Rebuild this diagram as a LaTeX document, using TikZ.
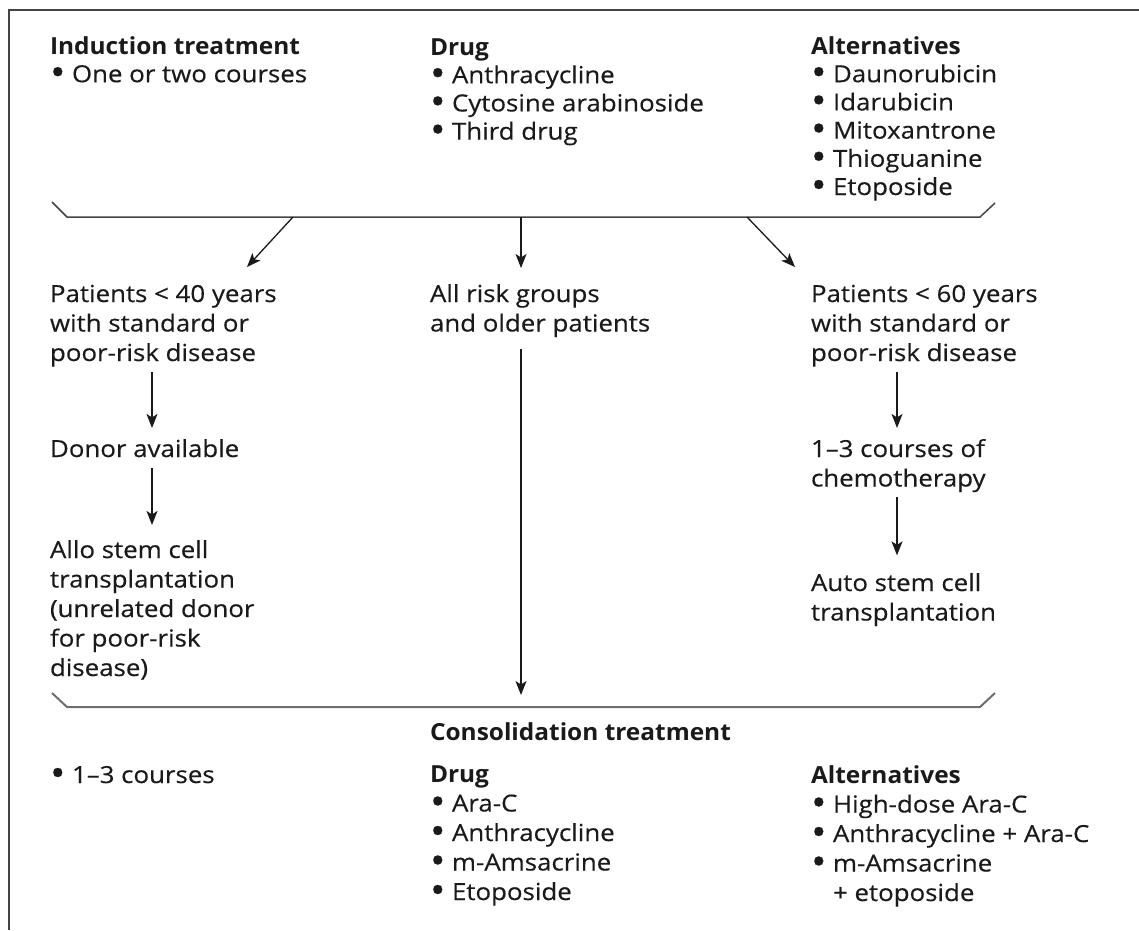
\documentclass[tikz,border=0pt]{standalone}
\usepackage{fontspec}
\setmainfont{Open Sans}[FakeStretch=1.1, UprightFeatures={FakeBold=0.4}, BoldFeatures={FakeStretch=1.04}]
\usetikzlibrary{arrows.meta}
\definecolor{ink}{HTML}{1A1A1A}
\definecolor{framegray}{HTML}{444444}
\definecolor{lowgray}{HTML}{6E6E6E}
\newcommand{\blockA}[1]{\begin{tabular}[t]{@{}l@{}}#1\end{tabular}}
\newcommand{\bu}{\makebox[22pt][l]{\raisebox{-3.2pt}{\scalebox{1.6}{•}}}}
\begin{document}
\begin{tikzpicture}[x=1pt,y=-1pt,
  txttop/.style={anchor=base west, inner sep=0pt, outer sep=0pt, text=ink, font=\fontsize{23.5}{28.2}\selectfont},
  txt/.style={anchor=base west, inner sep=0pt, outer sep=0pt, text=ink, font=\fontsize{23.5}{29.5}\selectfont},
  conn/.style={draw=ink, line width=1.3pt, -{Stealth[length=14pt,width=11pt,inset=3.5pt]}},
  brk/.style={draw=framegray, line width=1.5pt},
  brklow/.style={draw=lowgray, line width=2pt}]
\useasboundingbox (0,0) rectangle (1139,930);
% frame
\draw[framegray, line width=2pt] (9,930) -- (9,10) -- (1139,10);

% top texts
\node[txttop] (ind) at (50,54) {\blockA{\textbf{Induction treatment}\\\bu One or two courses}};
\node[txttop] (drug) at (430,55) {\blockA{\textbf{Drug}\\\bu Anthracycline\\\bu Cytosine arabinoside\\\bu Third drug}};
\node[txttop] (alt) at (811,54) {\blockA{\textbf{Alternatives}\\\bu Daunorubicin\\\bu Idarubicin\\\bu Mitoxantrone\\\bu Thioguanine\\\bu Etoposide}};

% top bracket
\coordinate (tbL) at (52,202);
\coordinate (tbR) at (995,203);
\draw[brk] (tbL) -- (67,217) -- (980,217) -- (tbR);
\coordinate (bA) at (293,217);
\coordinate (bB) at (521,217);
\coordinate (bC) at (747,217);
\coordinate (tA) at (247,267);
\coordinate (tB) at (521,268);
\coordinate (tC) at (795,267);
\draw[conn] (bA) -- (tA);
\draw[conn] (bB) -- (tB);
\draw[conn] (bC) -- (tC);

% middle texts
\node[txt] (p40) at (50,302) {\blockA{Patients < 40 years\\with standard or\\poor-risk disease}};
\node[txt] (donor) at (50,457) {\blockA{Donor available}};
\node[txt] (allo) at (50,558) {\blockA{Allo stem cell\\transplantation\\(unrelated donor\\for poor-risk\\disease)}};
\node[txt] (older) at (430,302) {\blockA{All risk groups\\and older patients}};
\node[txt] (p60) at (811,302) {\blockA{Patients < 60 years\\with standard or\\poor-risk disease}};
\node[txt] (chemo) at (811,457) {\blockA{1–3 courses of\\chemotherapy}};
\node[txt] (auto) at (811,591) {\blockA{Auto stem cell\\transplantation}};

\coordinate (cA) at (152,0);
\coordinate (cB) at (521,0);
\coordinate (cC) at (897,0);

% bottom bracket
\coordinate (lbL) at (52,693);
\coordinate (lbR) at (995,693);
\coordinate (lbM) at (521,707);
\draw[brklow] (lbL) -- (67,707) -- (980,707) -- (lbR);

\draw[conn, shorten <=2pt, shorten >=8.4pt] (p40.south -| cA) -- (donor.north -| cA);
\draw[conn, shorten <=2pt, shorten >=12.4pt] (donor.south -| cA) -- (allo.north -| cA);
\draw[conn, shorten <=9pt, shorten >=12pt] (older.south -| cB) -- (lbM);
\draw[conn, shorten <=2pt, shorten >=8.4pt] (p60.south -| cC) -- (chemo.north -| cC);
\draw[conn, shorten <=2pt, shorten >=15pt] (chemo.south -| cC) -- (auto.north -| cC);

% bottom texts
\node[txt] (consol) at (430,740) {\blockA{\textbf{Consolidation treatment}}};
\node[txt] (courses) at (50,783) {\blockA{\bu 1–3 courses}};
\node[txt] (drug2) at (430,782) {\blockA{\textbf{Drug}\\\bu Ara-C\\\bu Anthracycline\\\bu m-Amsacrine\\\bu Etoposide}};
\node[txt] (alt2) at (811,783) {\blockA{\textbf{Alternatives}\\\bu High-dose Ara-C\\\bu Anthracycline + Ara-C\\\bu m-Amsacrine\\\hphantom{\bu}+ etoposide}};
\end{tikzpicture}
\end{document}
